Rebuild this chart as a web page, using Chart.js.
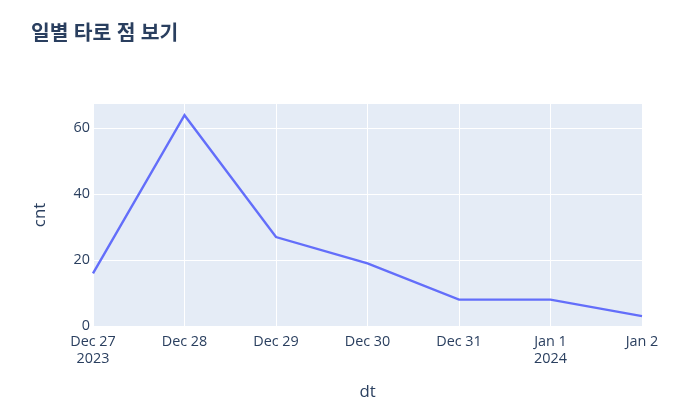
<!DOCTYPE html>
<html>
<head>
<meta charset="utf-8">
<script src="https://cdn.jsdelivr.net/npm/chart.js@4/dist/chart.umd.min.js"></script>
<style>
  html, body { margin: 0; padding: 0; background: #fff; }
  #wrap { width: 678px; height: 417px; position: relative; }
</style>
</head>
<body>
<div id="wrap"><canvas id="chart"></canvas></div>
<script>
// 데이터
const categories = [['Dec 27', '2023'], 'Dec 28', 'Dec 29', 'Dec 30', 'Dec 31', ['Jan 1', '2024'], 'Jan 2'];
const cntValues = [16, 64, 27, 19, 8, 8, 3];
const yTickValues = [0, 20, 40, 60];
const yMax = 67.4;

const textColor = '#2a3f5f';
const fontFamily = '"Open Sans", "Noto Sans CJK KR", sans-serif';

// 플롯 영역 배경
const plotBackground = {
    id: 'plotBackground',
    beforeDraw(chart) {
        const { ctx, chartArea: a } = chart;
        ctx.save();
        ctx.fillStyle = '#E5ECF6';
        ctx.fillRect(a.left, a.top, a.width, a.height);
        ctx.restore();
    }
};

new Chart(document.getElementById('chart'), {
    type: 'line',
    data: {
        labels: categories,
        datasets: [{
            label: 'cnt',
            data: cntValues,
            borderColor: '#636efa',
            borderWidth: 2.4,
            pointRadius: 0,
            pointHoverRadius: 0,
            tension: 0,
            fill: false
        }]
    },
    options: {
        responsive: true,
        maintainAspectRatio: false,
        animation: false,
        layout: {
            padding: { left: 31, right: 36, top: 0, bottom: 0 }
        },
        plugins: {
            legend: { display: false },
            tooltip: { enabled: false },
            title: {
                display: true,
                text: '일별 타로 점 보기',
                align: 'start',
                color: textColor,
                font: { family: fontFamily, size: 20.4, weight: 'bold' },
                padding: { top: 22, bottom: 57.5 }
            }
        },
        scales: {
            x: {
                type: 'category',
                offset: false,
                grid: { color: '#ffffff', lineWidth: 1, drawTicks: false },
                border: { display: false },
                ticks: {
                    color: textColor,
                    font: { family: fontFamily, size: 14.4 },
                    padding: 7,
                    maxRotation: 0,
                    autoSkip: false
                },
                title: {
                    display: true,
                    text: 'dt',
                    color: textColor,
                    font: { family: fontFamily, size: 16.8 },
                    padding: { top: 0, bottom: 15 }
                },
                afterFit(axis) { axis.height = 91; }
            },
            y: {
                min: 0,
                max: yMax,
                grid: { color: '#ffffff', lineWidth: 1, drawTicks: false },
                border: { display: false },
                ticks: {
                    color: textColor,
                    font: { family: fontFamily, size: 14.4 },
                    padding: 3
                },
                afterBuildTicks(axis) {
                    axis.ticks = yTickValues.map(v => ({ value: v }));
                },
                title: {
                    display: true,
                    text: 'cnt',
                    color: textColor,
                    font: { family: fontFamily, size: 16.8 },
                    padding: { top: -1, bottom: 0 }
                },
                afterFit(axis) { axis.width = 62; }
            }
        }
    },
    plugins: [plotBackground]
});
</script>
</body>
</html>
